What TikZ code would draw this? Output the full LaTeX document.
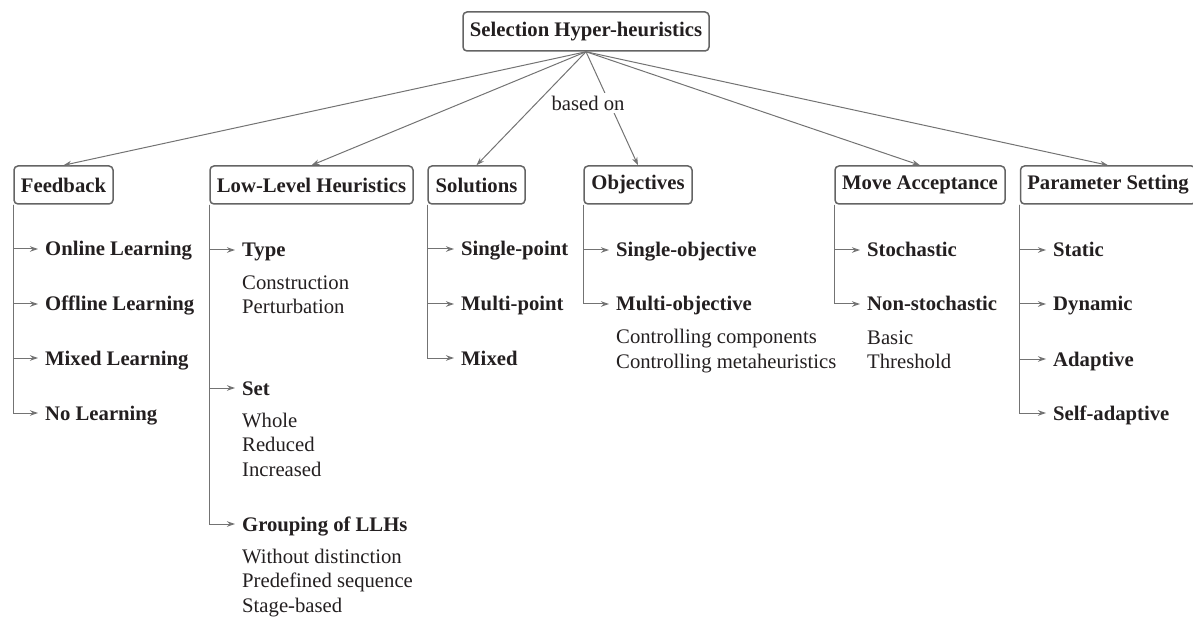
\documentclass[tikz,border=0pt]{standalone}
\usepackage{fontspec}
\setmainfont{Liberation Serif}
\usepackage{tikz}
\usetikzlibrary{arrows.meta}
\definecolor{linegray}{RGB}{115,115,115}
\definecolor{boxgray}{RGB}{100,100,100}
\definecolor{textdark}{RGB}{35,31,32}
\newcommand{\diagfont}{\fontsize{20.7}{24.5}\selectfont}
\tikzstyle{category} = [draw=boxgray, line width=1.5pt, rounded corners=4pt, minimum height=38pt, inner xsep=2pt, text=textdark, font=\bfseries\diagfont]
\tikzstyle{item} = [anchor=west, inner sep=0pt, text height=15pt, text depth=1pt, text=textdark, font=\bfseries\diagfont]
\tikzstyle{sub} = [anchor=base west, inner sep=0pt, align=left, text=textdark, font=\diagfont]
\tikzstyle{link} = [draw=linegray, line width=1pt, -{Stealth[length=8pt,width=5.5pt]}]
\tikzstyle{branch} = [link, shorten >=7pt]

\begin{document}
\begin{tikzpicture}[x=1pt,y=-1pt]
\useasboundingbox (0,0) rectangle (1193,617);
\node[category, minimum width=246pt, minimum height=39pt] (root) at (586,31.5) {Selection Hyper-heuristics};
\node[category, minimum width=99pt] (feedback) at (63.5,185) {Feedback};
\node[category, minimum width=203pt] (llh) at (311.5,185) {Low-Level Heuristics};
\node[category, minimum width=97pt] (solutions) at (476.5,185) {Solutions};
\node[category, minimum width=108pt] (objectives) at (638,185) {Objectives};
\node[category, minimum width=170pt] (acceptance) at (920,185) {Move Acceptance};
\node[category, minimum width=175pt] (parameter) at (1108,185) {Parameter Setting};
\draw[link] (root.south) -- (feedback.north);
\draw[link] (root.south) -- (llh.north);
\draw[link] (root.south) -- (solutions.north);
\draw[link] (root.south) -- (objectives.north);
\draw[link] (root.south) -- (acceptance.north);
\draw[link] (root.south) -- (parameter.north);
\node[fill=white, inner sep=3pt, text=textdark, font=\diagfont] (basedon) at (588,103) {based on};

% feedback
\node[item] (online) at (45,249) {Online Learning};
\node[item] (offline) at (45,304) {Offline Learning};
\node[item] (mixedlearning) at (45,358) {Mixed Learning};
\node[item] (nolearning) at (45,413) {No Learning};
\draw[branch] (feedback.south west) |- (online.west);
\draw[branch] (feedback.south west) |- (offline.west);
\draw[branch] (feedback.south west) |- (mixedlearning.west);
\draw[branch] (feedback.south west) |- (nolearning.west);

% low-level heuristics (sub lists sit on the baseline of their last line)
\node[item] (type) at (242,250) {Type};
\node[sub] (typesub) at (242,314) {Construction\\Perturbation};
\node[item] (set) at (242,388) {Set};
\node[sub] (setsub) at (242,476) {Whole\\Reduced\\Increased};
\node[item] (grouping) at (242,524) {Grouping of LLHs};
\node[sub] (groupingsub) at (242,612) {Without distinction\\Predefined sequence\\Stage-based};
\draw[branch] (llh.south west) |- (type.west);
\draw[branch] (llh.south west) |- (set.west);
\draw[branch] (llh.south west) |- (grouping.west);

% solutions
\node[item] (singlepoint) at (461,249) {Single-point};
\node[item] (multipoint) at (461,304) {Multi-point};
\node[item] (mixed) at (461,358) {Mixed};
\draw[branch] (solutions.south west) |- (singlepoint.west);
\draw[branch] (solutions.south west) |- (multipoint.west);
\draw[branch] (solutions.south west) |- (mixed.west);

% objectives
\node[item] (singleobj) at (616,250) {Single-objective};
\node[item] (multiobj) at (616,304) {Multi-objective};
\node[sub] (multiobjsub) at (616,368) {Controlling components\\Controlling metaheuristics};
\draw[branch] (objectives.south west) |- (singleobj.west);
\draw[branch] (objectives.south west) |- (multiobj.west);

% move acceptance
\node[item] (stochastic) at (867,250) {Stochastic};
\node[item] (nonstochastic) at (867,304) {Non-stochastic};
\node[sub] (nonstochasticsub) at (867,368.5) {Basic\\Threshold};
\draw[branch] (acceptance.south west) |- (stochastic.west);
\draw[branch] (acceptance.south west) |- (nonstochastic.west);

% parameter setting
\node[item] (static) at (1053,250) {Static};
\node[item] (dynamic) at (1053,304) {Dynamic};
\node[item] (adaptive) at (1053,359) {Adaptive};
\node[item] (selfadaptive) at (1053,413) {Self-adaptive};
\draw[branch] (parameter.south west) |- (static.west);
\draw[branch] (parameter.south west) |- (dynamic.west);
\draw[branch] (parameter.south west) |- (adaptive.west);
\draw[branch] (parameter.south west) |- (selfadaptive.west);
\end{tikzpicture}
\end{document}
